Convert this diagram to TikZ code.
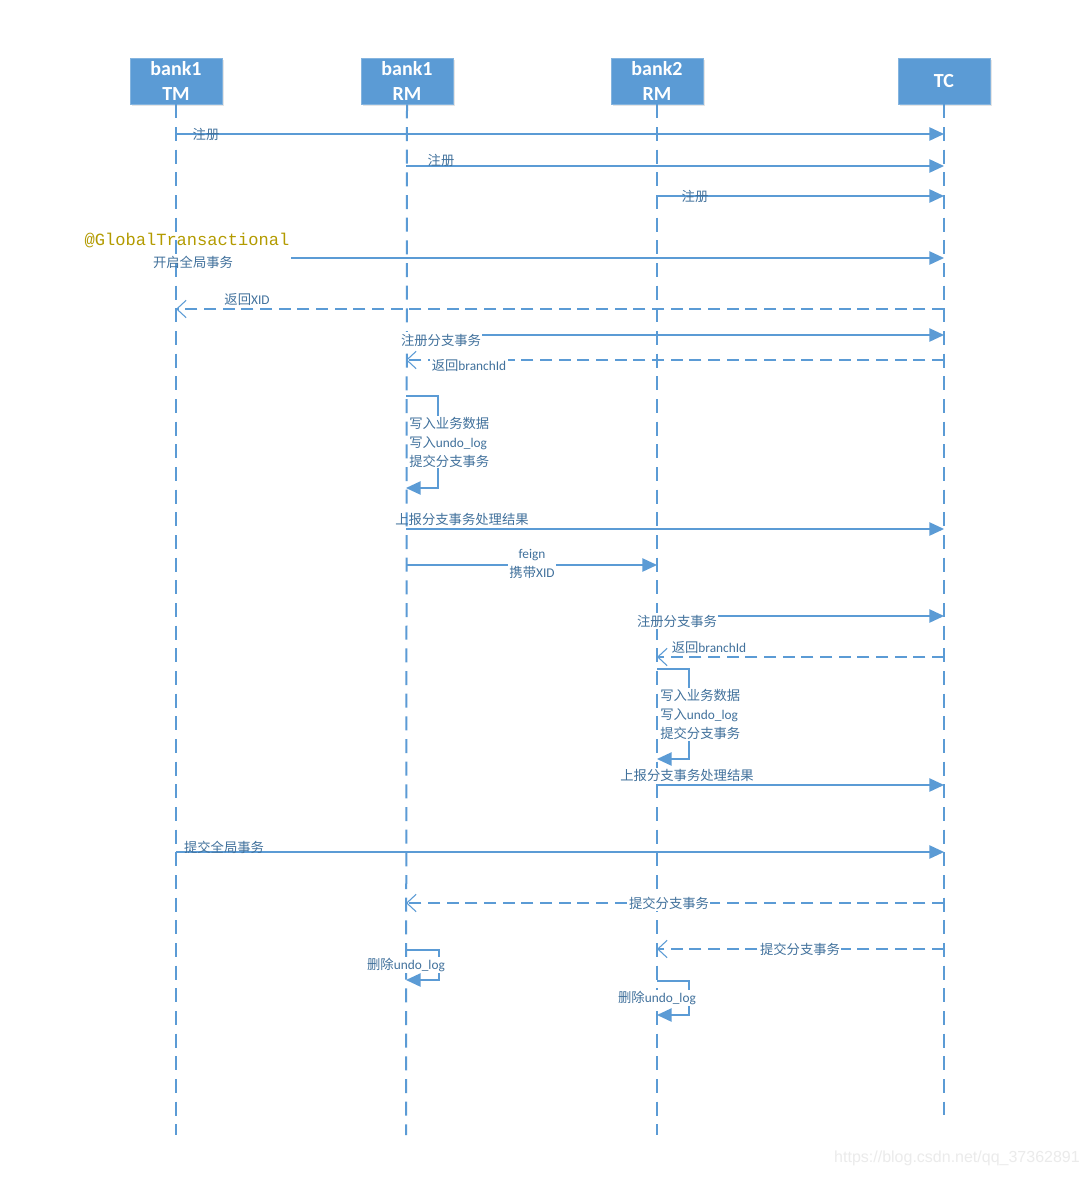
\documentclass[tikz,border=0pt]{standalone}
\usepackage{fontspec}
\setmainfont{Carlito}
\newfontfamily\cjk{Noto Sans CJK SC}
\newfontfamily\monof{Liberation Mono}
\newfontfamily\wmfont{Liberation Sans}
\usetikzlibrary{arrows.meta,shadows}
\definecolor{lblue}{HTML}{5B9BD5}
\definecolor{tblue}{HTML}{41719C}
\definecolor{goldtxt}{HTML}{B39B00}
\begin{document}
\begin{tikzpicture}[x=0.75pt,y=-0.75pt,
  hdr/.style={fill=lblue,draw=lblue!75!white,line width=0.6pt,minimum width=69pt,minimum height=34.5pt,
    text=white,align=center,font=\bfseries\fontsize{15}{18.5}\selectfont,inner sep=0pt,
    drop shadow={shadow xshift=1.5pt,shadow yshift=-1.5pt,opacity=0.2}},
  life/.style={draw=lblue,line width=1.5pt,dash pattern=on 10.5pt off 6.5pt},
  msg/.style={draw=lblue,line width=1.1pt,-{Triangle[length=11pt,width=10pt]}},
  ret/.style={draw=lblue,line width=1.1pt,dash pattern=on 9pt off 5pt,-{Straight Barb[length=7pt,width=13pt,line width=0.8pt]}},
  lbl/.style={text=tblue,font=\cjk\fontsize{10}{12}\selectfont,inner sep=1pt},
  flbl/.style={lbl,fill=white},
  stack/.style={text=tblue,font=\cjk\fontsize{10}{14.25}\selectfont,align=left,inner sep=0pt,anchor=west}]
\useasboundingbox (0,0) rectangle (1086,1177);
\fill[white] (0,0) rectangle (1086,1177);

% headers
\node[hdr] (tm) at (176,81) {bank1\\TM};
\node[hdr] (ra) at (407,81) {bank1\\RM};
\node[hdr] (rb) at (657,81) {bank2\\RM};
\node[hdr] (tc) at (944,81) {TC};

% lifelines
\coordinate (tmend) at (176,1135);
\coordinate (raend) at (406,1135);
\coordinate (rbend) at (657,1135);
\coordinate (tcend) at (944,1115);
\draw[life] (tm.south) -- (tmend);
\draw[life] (ra.south) -- (raend);
\draw[life] (rb.south) -- (rbend);
\draw[life] (tc.south) -- (tcend);

% register
\draw[msg] (tmend |- 0,134) -- (tcend |- 0,134);
\node[lbl] (l1) at (206,134) {注册};
\draw[msg] (raend |- 0,166) -- (tcend |- 0,166);
\node[lbl] (l2) at (441,160) {注册};
\draw[msg] (rbend |- 0,196) -- (tcend |- 0,196);
\node[lbl] (l3) at (695,196) {注册};

% global transaction
\node[text=goldtxt,font=\monof\fontsize{12.8}{14}\selectfont,inner sep=0pt] (gt) at (187,240) {@GlobalTransactional};
\node[lbl] (l4) at (193,262) {开启全局事务};
\coordinate (gts) at (291,258);
\draw[msg] (gts) -- (tcend |- 0,258);

\draw[ret] (tcend |- 0,309) -- (tmend |- 0,309);
\node[lbl] (l5) at (247,300) {返回\rmfamily XID};

% bank1 branch
\draw[msg] (raend |- 0,335) -- (tcend |- 0,335);
\node[flbl] (l6) at (441,340) {注册分支事务};
\draw[ret] (tcend |- 0,360) -- (raend |- 0,360);
\node[flbl] (l7) at (469,366) {返回\rmfamily branchId};

\draw[msg] (raend |- 0,396) -- (438,396) -- (438,488) -- (raend |- 0,488);
\node[stack,fill=white,inner ysep=1pt] (s1) at (409,442) {写入业务数据\\写入{\rmfamily undo\_log}\\提交分支事务};

\draw[msg] (raend |- 0,529) -- (tcend |- 0,529);
\node[lbl] (l8) at (462,519) {上报分支事务处理结果};

\draw[msg] (raend |- 0,565) -- (rbend |- 0,565);
\node[flbl,align=center,font=\cjk\fontsize{10}{14}\selectfont] (l9) at (532,564) {{\rmfamily feign}\\携带{\rmfamily XID}};

% bank2 branch
\draw[msg] (rbend |- 0,616) -- (tcend |- 0,616);
\node[flbl] (l10) at (677,621) {注册分支事务};
\draw[ret] (tcend |- 0,657) -- (rbend |- 0,657);
\node[flbl] (l11) at (709,648) {返回\rmfamily branchId};

\draw[msg] (rbend |- 0,669) -- (689,669) -- (689,759) -- (rbend |- 0,759);
\node[stack,fill=white,inner ysep=1pt] (s2) at (660,714) {写入业务数据\\写入{\rmfamily undo\_log}\\提交分支事务};

\draw[msg] (rbend |- 0,785) -- (tcend |- 0,785);
\node[flbl] (l12) at (687,775) {上报分支事务处理结果};

% commit
\draw[msg] (tmend |- 0,852) -- (tcend |- 0,852);
\node[lbl] (l13) at (224,847) {提交全局事务};

\draw[ret] (tcend |- 0,903) -- (raend |- 0,903);
\node[flbl] (l14) at (669,903) {提交分支事务};
\draw[ret] (tcend |- 0,949) -- (rbend |- 0,949);
\node[flbl] (l15) at (800,949) {提交分支事务};

\draw[msg] (raend |- 0,950) -- (439,950) -- (439,980) -- (raend |- 0,980);
\node[flbl] (l16) at (406,965) {删除\rmfamily undo\_log};
\draw[msg] (rbend |- 0,981) -- (689,981) -- (689,1015) -- (rbend |- 0,1015);
\node[flbl] (l17) at (657,998) {删除\rmfamily undo\_log};

% watermark
\node[text=black!8,font=\wmfont\fontsize{12}{14}\selectfont,inner sep=0pt] (wm) at (957,1158) {https://blog.csdn.net/qq\_37362891};
\end{tikzpicture}
\end{document}
